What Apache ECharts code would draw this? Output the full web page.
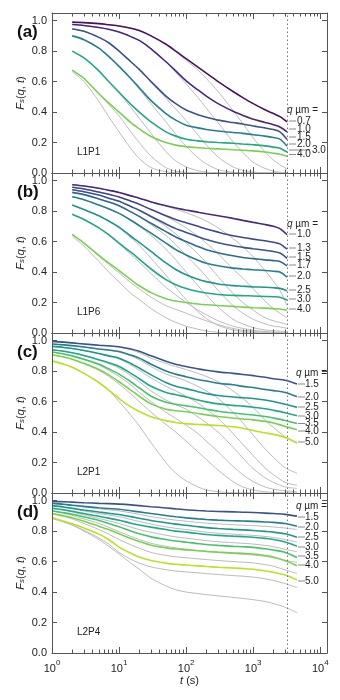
<!DOCTYPE html>
<html>
<head>
<meta charset="utf-8">
<script src="https://cdn.jsdelivr.net/npm/echarts@6/dist/echarts.min.js"></script>
<style>
  html, body { margin: 0; padding: 0; background: #fff; }
  #chart { width: 340px; height: 700px; }
</style>
</head>
<body>
<div id="chart"></div>
<script>
// time points (s)
const tShort = [2, 3, 5, 7, 10, 15, 20, 30, 50, 70, 100, 150, 200, 300, 500, 700, 1000, 1500, 2000, 2500, 3200];
const tLong = [1, 1.5, 2, 3, 5, 7, 10, 15, 20, 30, 50, 70, 100, 150, 200, 300, 500, 700, 1000, 1500, 2000, 3000, 4500];
const tMarker = 3200;

const xMajor = [1, 10, 100, 1000, 10000];
const xMinor = [2,3,4,5,6,7,8,9, 20,30,40,50,60,70,80,90, 200,300,400,500,600,700,800,900, 2000,3000,4000,5000,6000,7000,8000,9000];
const yTicks = [0, 0.2, 0.4, 0.6, 0.8, 1.0];

// (a) L1P1
const qA = ['0.7', '1.0', '1.5', '2.0', '3.0', '4.0'];
const fsA = [
  [0.99,0.987,0.98,0.973,0.965,0.95,0.935,0.9,0.845,0.8,0.75,0.695,0.655,0.6,0.535,0.495,0.455,0.415,0.39,0.37,0.335],
  [0.975,0.968,0.955,0.943,0.925,0.895,0.87,0.815,0.73,0.67,0.605,0.545,0.505,0.455,0.405,0.378,0.352,0.332,0.317,0.302,0.27],
  [0.945,0.93,0.89,0.855,0.80,0.73,0.68,0.60,0.505,0.455,0.413,0.382,0.366,0.347,0.331,0.321,0.308,0.296,0.285,0.27,0.22],
  [0.90,0.875,0.82,0.765,0.70,0.62,0.56,0.475,0.39,0.347,0.314,0.296,0.286,0.276,0.266,0.26,0.251,0.242,0.233,0.222,0.175],
  [0.80,0.755,0.67,0.60,0.53,0.45,0.40,0.335,0.27,0.242,0.222,0.211,0.205,0.2,0.195,0.19,0.185,0.178,0.17,0.163,0.137],
  [0.675,0.62,0.52,0.46,0.40,0.33,0.29,0.24,0.2,0.183,0.173,0.166,0.162,0.158,0.153,0.149,0.145,0.138,0.13,0.123,0.11]
];
const greyA = [
  [0.99,0.987,0.98,0.973,0.965,0.95,0.935,0.9,0.845,0.795,0.74,0.675,0.62,0.535,0.41,0.325,0.23,0.14,0.085,0.055,0.025],
  [0.975,0.968,0.955,0.943,0.925,0.895,0.87,0.815,0.73,0.66,0.585,0.495,0.425,0.33,0.205,0.135,0.07,0.03,0.012,0.005,0.001],
  [0.945,0.93,0.89,0.855,0.80,0.73,0.68,0.595,0.49,0.42,0.345,0.25,0.185,0.105,0.04,0.018,0.006,0.001,0,0,0],
  [0.90,0.875,0.82,0.765,0.70,0.615,0.55,0.455,0.335,0.255,0.175,0.1,0.06,0.022,0.005,0.001,0,0,0,0,0],
  [0.80,0.755,0.67,0.60,0.525,0.43,0.36,0.26,0.14,0.08,0.04,0.015,0.006,0.001,0,0,0,0,0,0,0],
  [0.675,0.62,0.52,0.45,0.375,0.27,0.2,0.11,0.035,0.012,0.004,0,0,0,0,0,0,0,0,0,0],
  [0.665,0.60,0.47,0.37,0.27,0.16,0.095,0.035,0.008,0.002,0,0,0,0,0,0,0,0,0,0,0]
];

// (b) L1P6
const qB = ['1.0', '1.3', '1.5', '1.7', '2.0', '2.5', '3.0', '4.0'];
const fsB = [
  [0.973,0.965,0.95,0.937,0.922,0.90,0.885,0.86,0.835,0.82,0.807,0.793,0.783,0.77,0.752,0.739,0.726,0.712,0.70,0.685,0.645],
  [0.956,0.945,0.925,0.91,0.893,0.865,0.845,0.81,0.77,0.745,0.724,0.70,0.683,0.662,0.638,0.627,0.616,0.605,0.596,0.585,0.55],
  [0.94,0.927,0.905,0.885,0.865,0.83,0.805,0.765,0.715,0.685,0.66,0.632,0.613,0.592,0.572,0.562,0.553,0.543,0.535,0.525,0.49],
  [0.923,0.908,0.88,0.86,0.835,0.795,0.765,0.72,0.665,0.63,0.60,0.567,0.547,0.527,0.507,0.496,0.488,0.48,0.475,0.469,0.44],
  [0.894,0.875,0.84,0.815,0.785,0.74,0.705,0.655,0.59,0.547,0.512,0.478,0.458,0.441,0.426,0.42,0.415,0.41,0.405,0.40,0.366],
  [0.84,0.81,0.77,0.735,0.695,0.635,0.595,0.535,0.46,0.417,0.382,0.352,0.337,0.322,0.311,0.307,0.303,0.3,0.297,0.293,0.278],
  [0.78,0.745,0.69,0.645,0.59,0.53,0.485,0.42,0.35,0.317,0.292,0.272,0.262,0.253,0.247,0.245,0.243,0.24,0.238,0.235,0.216],
  [0.647,0.59,0.51,0.46,0.41,0.35,0.31,0.265,0.225,0.21,0.20,0.19,0.185,0.18,0.175,0.17,0.166,0.163,0.16,0.158,0.15]
];
const greyB = [
  [0.973,0.965,0.95,0.937,0.922,0.90,0.885,0.86,0.833,0.812,0.79,0.76,0.735,0.69,0.62,0.565,0.5,0.41,0.34,0.28,0.18],
  [0.956,0.945,0.925,0.91,0.893,0.865,0.845,0.81,0.765,0.73,0.69,0.635,0.59,0.52,0.42,0.36,0.29,0.21,0.16,0.13,0.10],
  [0.94,0.927,0.905,0.885,0.865,0.83,0.805,0.76,0.70,0.65,0.59,0.52,0.46,0.37,0.26,0.2,0.15,0.1,0.08,0.07,0.055],
  [0.923,0.908,0.88,0.86,0.835,0.795,0.763,0.71,0.64,0.58,0.51,0.43,0.37,0.28,0.18,0.13,0.09,0.06,0.045,0.04,0.03],
  [0.894,0.875,0.84,0.815,0.785,0.738,0.70,0.64,0.55,0.48,0.40,0.31,0.25,0.17,0.09,0.06,0.035,0.02,0.015,0.012,0.01],
  [0.84,0.81,0.77,0.733,0.69,0.625,0.575,0.49,0.38,0.30,0.22,0.14,0.095,0.05,0.02,0.01,0.004,0,0,0,0],
  [0.78,0.745,0.69,0.643,0.585,0.515,0.465,0.39,0.3,0.25,0.2,0.15,0.12,0.08,0.045,0.03,0.018,0.01,0.006,0.004,0.002],
  [0.647,0.59,0.505,0.45,0.395,0.33,0.29,0.235,0.18,0.155,0.13,0.1,0.08,0.055,0.03,0.018,0.01,0.005,0.002,0,0],
  [0.635,0.57,0.47,0.40,0.335,0.26,0.22,0.16,0.1,0.07,0.045,0.025,0.013,0.005,0,0,0,0,0,0,0]
];

// (c) L2P1
const qC = ['1.5', '2.0', '2.5', '3.0', '3.5', '4.0', '5.0'];
const fsC = [
  [0.995,0.99,0.985,0.978,0.97,0.966,0.96,0.945,0.93,0.9,0.865,0.845,0.83,0.815,0.805,0.795,0.785,0.778,0.77,0.76,0.75,0.74,0.715],
  [0.978,0.972,0.967,0.958,0.945,0.938,0.928,0.905,0.885,0.845,0.80,0.78,0.763,0.745,0.735,0.72,0.71,0.70,0.692,0.68,0.672,0.66,0.632],
  [0.962,0.955,0.948,0.935,0.915,0.9,0.885,0.85,0.82,0.775,0.725,0.70,0.685,0.665,0.652,0.64,0.63,0.625,0.62,0.61,0.6,0.582,0.562],
  [0.94,0.93,0.92,0.902,0.875,0.855,0.83,0.785,0.75,0.70,0.66,0.645,0.63,0.61,0.598,0.585,0.575,0.57,0.563,0.553,0.543,0.527,0.507],
  [0.925,0.912,0.9,0.878,0.845,0.815,0.78,0.73,0.69,0.635,0.595,0.582,0.572,0.56,0.55,0.537,0.525,0.518,0.512,0.502,0.492,0.476,0.456],
  [0.907,0.892,0.878,0.85,0.81,0.775,0.73,0.675,0.635,0.585,0.55,0.54,0.533,0.522,0.513,0.502,0.492,0.486,0.48,0.47,0.46,0.437,0.415],
  [0.867,0.845,0.825,0.785,0.725,0.675,0.62,0.565,0.535,0.5,0.475,0.463,0.455,0.45,0.447,0.443,0.435,0.425,0.41,0.395,0.385,0.365,0.33]
];
const greyC = [
  [0.995,0.99,0.985,0.978,0.97,0.965,0.958,0.94,0.92,0.885,0.85,0.83,0.81,0.785,0.765,0.73,0.67,0.62,0.56,0.48,0.43,0.37,0.325],
  [0.978,0.972,0.967,0.958,0.945,0.936,0.925,0.9,0.875,0.83,0.78,0.76,0.735,0.7,0.67,0.62,0.53,0.46,0.38,0.29,0.235,0.165,0.13],
  [0.962,0.955,0.948,0.935,0.913,0.897,0.88,0.84,0.805,0.755,0.7,0.67,0.635,0.59,0.55,0.49,0.39,0.32,0.245,0.165,0.12,0.07,0.05],
  [0.94,0.93,0.92,0.9,0.872,0.85,0.82,0.77,0.73,0.67,0.61,0.58,0.55,0.5,0.46,0.4,0.3,0.23,0.16,0.1,0.07,0.04,0.03],
  [0.925,0.912,0.9,0.876,0.84,0.805,0.765,0.71,0.66,0.6,0.53,0.49,0.445,0.39,0.34,0.27,0.175,0.12,0.075,0.04,0.025,0.014,0.01],
  [0.907,0.892,0.878,0.848,0.805,0.765,0.715,0.65,0.6,0.53,0.45,0.4,0.34,0.27,0.22,0.15,0.075,0.04,0.02,0.008,0.004,0.001,0],
  [0.867,0.845,0.825,0.785,0.725,0.675,0.6,0.51,0.44,0.33,0.2,0.13,0.08,0.04,0.02,0.008,0.002,0,0,0,0,0,0]
];

// (d) L2P4
const qD = ['1.5', '2.0', '2.5', '3.0', '3.5', '4.0', '5.0'];
const fsD = [
  [0.995,0.993,0.99,0.986,0.982,0.98,0.977,0.972,0.967,0.96,0.952,0.946,0.94,0.935,0.932,0.929,0.926,0.924,0.922,0.918,0.915,0.91,0.898],
  [0.982,0.976,0.97,0.962,0.953,0.948,0.943,0.933,0.926,0.915,0.902,0.894,0.887,0.88,0.876,0.872,0.868,0.866,0.864,0.86,0.857,0.85,0.832],
  [0.967,0.958,0.95,0.938,0.925,0.917,0.909,0.895,0.884,0.87,0.855,0.846,0.838,0.829,0.823,0.817,0.811,0.808,0.804,0.798,0.793,0.782,0.76],
  [0.95,0.94,0.93,0.915,0.897,0.885,0.871,0.852,0.84,0.826,0.81,0.8,0.793,0.784,0.778,0.772,0.767,0.764,0.76,0.752,0.745,0.728,0.70],
  [0.933,0.92,0.91,0.893,0.87,0.85,0.828,0.8,0.782,0.762,0.745,0.735,0.727,0.718,0.712,0.706,0.7,0.697,0.693,0.684,0.676,0.66,0.627],
  [0.915,0.9,0.888,0.865,0.832,0.81,0.782,0.752,0.732,0.707,0.69,0.682,0.677,0.671,0.667,0.662,0.657,0.654,0.65,0.64,0.63,0.605,0.573],
  [0.887,0.865,0.848,0.82,0.78,0.745,0.695,0.655,0.63,0.607,0.59,0.582,0.577,0.572,0.568,0.563,0.558,0.555,0.55,0.54,0.53,0.512,0.48]
];
const greyD = [
  [0.982,0.975,0.968,0.958,0.947,0.94,0.933,0.92,0.91,0.895,0.88,0.872,0.865,0.857,0.852,0.847,0.842,0.839,0.836,0.831,0.827,0.82,0.81],
  [0.967,0.956,0.946,0.932,0.915,0.905,0.895,0.876,0.863,0.846,0.828,0.818,0.81,0.8,0.793,0.786,0.78,0.776,0.772,0.765,0.758,0.745,0.728],
  [0.95,0.937,0.925,0.906,0.883,0.867,0.85,0.826,0.81,0.792,0.773,0.762,0.754,0.744,0.737,0.73,0.724,0.72,0.715,0.706,0.698,0.68,0.665],
  [0.933,0.917,0.903,0.88,0.85,0.825,0.797,0.765,0.745,0.72,0.7,0.69,0.682,0.672,0.666,0.659,0.652,0.648,0.643,0.634,0.625,0.608,0.595],
  [0.915,0.896,0.88,0.85,0.81,0.78,0.745,0.71,0.688,0.66,0.64,0.631,0.625,0.618,0.613,0.607,0.6,0.596,0.591,0.58,0.57,0.545,0.522],
  [0.887,0.86,0.84,0.805,0.755,0.715,0.66,0.615,0.59,0.565,0.547,0.538,0.532,0.526,0.521,0.515,0.508,0.504,0.498,0.487,0.476,0.455,0.43],
  [0.882,0.86,0.84,0.8,0.745,0.7,0.65,0.59,0.55,0.49,0.44,0.415,0.40,0.39,0.383,0.375,0.365,0.358,0.35,0.338,0.325,0.3,0.265]
];

const qColor = {
  '0.7': '#47115f', '1.0': '#482878', '1.3': '#3f4788', '1.5': '#3b528b', '1.7': '#31688e',
  '2.0': '#277f8e', '2.5': '#1f978b', '3.0': '#22a884', '3.5': '#4ac16d', '4.0': '#7ad151', '5.0': '#bddf26'
};

const FONT = 'Liberation Sans';
const gridLeft = 52, gridRight = 13, gridH = 160, gridTops = [13, 173, 333, 493];

const panels = [
  { tag: '(a)', name: 'L1P1', t: tShort, q: qA, fs: fsA, grey: greyA,
    head: 110, ys: [121, 129, 137, 144, 150, 154.5], dashX: 289, textX: 297 },
  { tag: '(b)', name: 'L1P6', t: tShort, q: qB, fs: fsB, grey: greyB,
    head: 224, ys: [234, 248, 257, 265, 276, 290, 299, 309], dashX: 289, textX: 297 },
  { tag: '(c)', name: 'L2P1', t: tLong, q: qC, fs: fsC, grey: greyC,
    head: 373, ys: [384, 397, 407, 416, 423.5, 431, 442], dashX: 298, textX: 305 },
  { tag: '(d)', name: 'L2P4', t: tLong, q: qD, fs: fsD, grey: greyD,
    head: 506, ys: [517, 527, 537, 547, 556, 565, 581], dashX: 298, textX: 305 }
];

const axisColor = '#555';
const grid = [], xAxis = [], yAxis = [], series = [], graphic = [];

panels.forEach((p, i) => {
  grid.push({ left: gridLeft, right: gridRight, top: gridTops[i], height: gridH });
  const last = i === panels.length - 1;
  const xBase = {
    gridIndex: i, type: 'log', logBase: 10, min: 1, max: 12600, z: 5,
    splitLine: { show: false }
  };
  // bottom major
  xAxis.push(Object.assign({}, xBase, {
    position: 'bottom',
    axisLine: { onZero: false, lineStyle: { color: axisColor, width: 1 } },
    axisTick: { inside: true, length: 6, customValues: xMajor, lineStyle: { color: axisColor } },
    axisLabel: {
      show: last, customValues: xMajor, margin: 6, color: '#222',
      formatter: v => '{b|10}{s|' + Math.round(Math.log10(v)) + '}',
      rich: {
        b: { fontSize: 11, lineHeight: 15, verticalAlign: 'bottom', fontFamily: FONT, color: '#222' },
        s: { fontSize: 8, lineHeight: 8, verticalAlign: 'top', fontFamily: FONT, color: '#222' }
      }
    },
    name: last ? '{i|t} (s)' : '',
    nameLocation: 'middle', nameGap: 22, nameMoveOverlap: false,
    nameTextStyle: { fontSize: 11, color: '#222', fontFamily: FONT,
      rich: { i: { fontStyle: 'italic', fontSize: 11, fontFamily: FONT, color: '#222' } } }
  }));
  // bottom minor
  xAxis.push(Object.assign({}, xBase, {
    position: 'bottom',
    axisLine: { show: false, onZero: false },
    axisTick: { inside: true, length: 3.5, customValues: xMinor, lineStyle: { color: axisColor } },
    axisLabel: { show: false }
  }));
  // top major + minor
  xAxis.push(Object.assign({}, xBase, {
    position: 'top',
    axisLine: { onZero: false, lineStyle: { color: axisColor, width: 1 } },
    axisTick: { inside: true, length: 6, customValues: xMajor, lineStyle: { color: axisColor } },
    axisLabel: { show: false }
  }));
  xAxis.push(Object.assign({}, xBase, {
    position: 'top',
    axisLine: { show: false, onZero: false },
    axisTick: { inside: true, length: 3.5, customValues: xMinor, lineStyle: { color: axisColor } },
    axisLabel: { show: false }
  }));

  yAxis.push({
    gridIndex: i, type: 'value', min: 0, max: 1.05, position: 'left', z: 5,
    axisLine: { onZero: false, lineStyle: { color: axisColor, width: 1 } },
    axisTick: { inside: true, length: 5, customValues: yTicks, lineStyle: { color: axisColor } },
    axisLabel: { customValues: yTicks, formatter: v => v.toFixed(1), fontSize: 11, color: '#222', margin: 5, fontFamily: FONT },
    splitLine: { show: false },
    name: '{i|F}{s|s}({i|q}, {i|t})',
    nameLocation: 'middle', nameRotate: 90, nameGap: 26, nameMoveOverlap: false,
    nameTextStyle: { fontSize: 11, color: '#222', fontFamily: FONT,
      rich: {
        i: { fontStyle: 'italic', fontSize: 11, fontFamily: FONT, color: '#222' },
        s: { fontStyle: 'italic', fontSize: 8, fontFamily: FONT, color: '#222', verticalAlign: 'bottom', lineHeight: 10 }
      } }
  });
  yAxis.push({
    gridIndex: i, type: 'value', min: 0, max: 1.05, position: 'right', z: 5,
    axisLine: { onZero: false, lineStyle: { color: axisColor, width: 1 } },
    axisTick: { inside: true, length: 5, customValues: yTicks, lineStyle: { color: axisColor } },
    axisLabel: { show: false },
    splitLine: { show: false }
  });

  const xi = i * 4, yi = i * 2;
  p.grey.forEach((g, k) => {
    series.push({
      type: 'line', xAxisIndex: xi, yAxisIndex: yi, silent: true,
      data: p.t.map((t, j) => [t, g[j]]),
      symbol: 'none', smooth: 0.3, z: 2,
      lineStyle: { color: '#bcbcbc', width: 1 },
      markLine: k === 0 ? {
        silent: true, symbol: ['none', 'none'], label: { show: false },
        lineStyle: { type: [1.5, 2.5], color: '#777', width: 1 },
        data: [{ xAxis: tMarker }]
      } : undefined
    });
  });
  p.fs.forEach((f, k) => {
    series.push({
      type: 'line', xAxisIndex: xi, yAxisIndex: yi, silent: true,
      data: p.t.map((t, j) => [t, f[j]]),
      symbol: 'none', smooth: 0.3, z: 3,
      lineStyle: { color: qColor[p.q[k]], width: 1.6 }
    });
  });

  // panel tag and sample name
  graphic.push({ type: 'text', x: 17, y: gridTops[i] + 19, style: {
    text: p.tag, font: 'bold 17px "' + FONT + '"', fill: '#111', verticalAlign: 'middle' } });
  graphic.push({ type: 'text', x: 77, y: gridTops[i] + 139, style: {
    text: p.name, font: '10px "' + FONT + '"', fill: '#222', verticalAlign: 'middle' } });

  // q legend
  graphic.push({ type: 'text', x: p.dashX - 2, y: p.head, style: {
    text: '{i|q} µm =', font: '10px "' + FONT + '"', fill: '#222', verticalAlign: 'middle',
    rich: { i: { fontStyle: 'italic', fontSize: 10, fontFamily: FONT, fill: '#222' } } } });
  p.q.forEach((q, k) => {
    const y = p.ys[k];
    const wide = (i === 0 && q === '3.0');
    graphic.push({ type: 'line', shape: { x1: p.dashX, y1: y, x2: wide ? 310 : p.dashX + 7, y2: y },
      style: { stroke: '#888', lineWidth: 1 } });
    graphic.push({ type: 'text', x: wide ? 312 : p.textX, y: y, style: {
      text: q, font: '10px "' + FONT + '"', fill: '#222', verticalAlign: 'middle' } });
  });
});

const chart = echarts.init(document.getElementById('chart'), null, { renderer: 'canvas' });
chart.setOption({
  animation: false,
  backgroundColor: '#fff',
  textStyle: { fontFamily: FONT },
  grid, xAxis, yAxis, series, graphic
});
</script>
</body>
</html>
